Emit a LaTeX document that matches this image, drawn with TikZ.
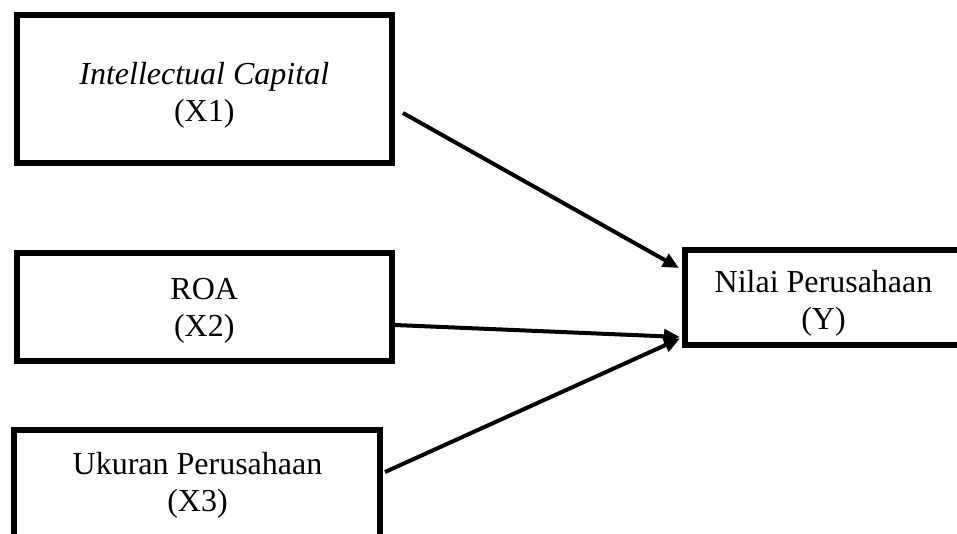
\documentclass[tikz,border=0pt]{standalone}
\usepackage{fontspec}
\setmainfont{Liberation Serif}
\usetikzlibrary{arrows.meta}
\begin{document}
\begin{tikzpicture}[x=1pt,y=-1pt,
  boxs/.style={draw, line width=6pt, inner sep=0pt},
  lbl/.style={font=\fontsize{32}{36.8}\selectfont, align=center, inner sep=0pt},
  conn/.style={line width=4pt, -{Triangle[length=16pt,width=14pt]}}]
\useasboundingbox (0,0) rectangle (957,533);
\clip (0,0) rectangle (957,533);
\fill[white] (0,0) rectangle (957,533);
% boxes
\node[boxs, minimum width=375.5pt, minimum height=148pt] (x1) at (204.25,89) {};
\node[boxs, minimum width=375.5pt, minimum height=108.5pt] (x2) at (204.25,306.75) {};
\node[boxs, minimum width=365.5pt, minimum height=130pt] (x3) at (196.75,495) {};
\node[boxs, minimum width=277pt, minimum height=95pt] (yb) at (823.5,297.5) {};
% labels
\node[lbl] (t1) at (204.25,95) {\textit{Intellectual Capital}\\(X1)};
\node[lbl] (t2) at (204.25,310.5) {ROA\\(X2)};
\node[lbl] (t3) at (197.5,485.5) {Ukuran Perusahaan\\(X3)};
\node[lbl] (ty) at (823.5,303.5) {Nilai Perusahaan\\(Y)};
% connectors
\draw[conn] ([xshift=8pt,yshift=-24pt]x1.east) -- ([xshift=-3pt,yshift=29.5pt]yb.west);
\draw[conn] ([yshift=-18.25pt]x2.east) -- ([xshift=-2pt,yshift=-39.5pt]yb.west);
\draw[conn] ([xshift=2.5pt,yshift=23pt]x3.east) -- ([xshift=-2pt,yshift=-41pt]yb.west);
\end{tikzpicture}
\end{document}
